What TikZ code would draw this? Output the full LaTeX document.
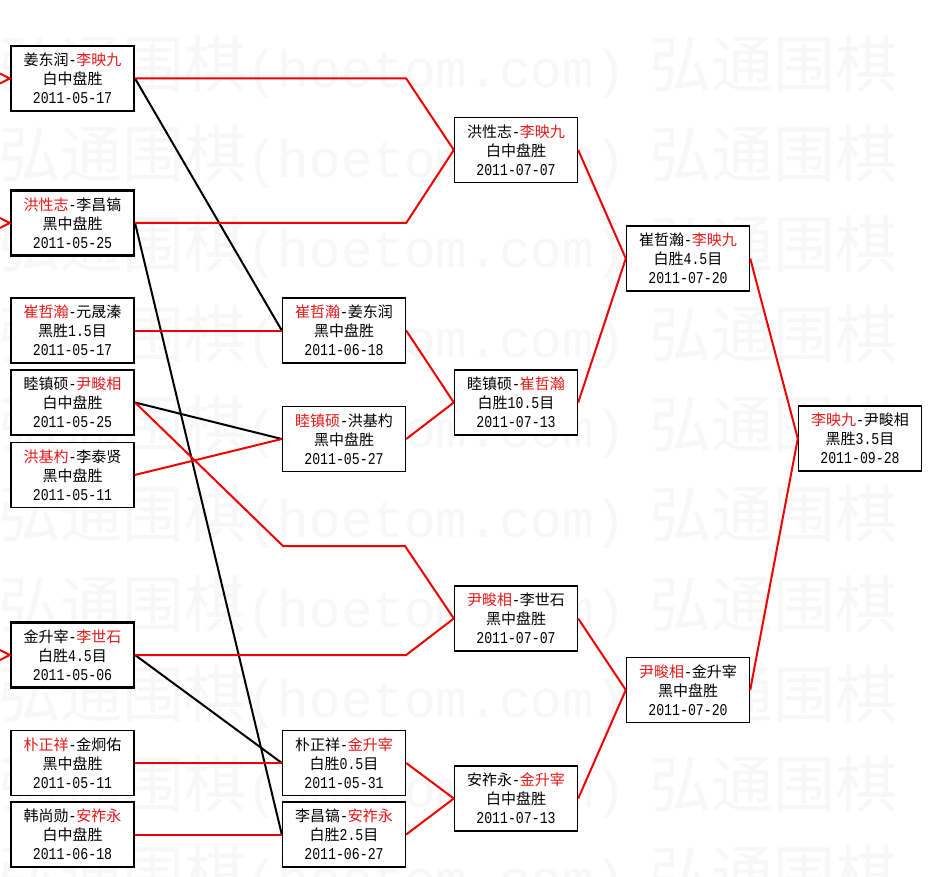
\documentclass[tikz,border=0pt]{standalone}
\usepackage{fontspec}
\setmainfont{Noto Sans CJK SC}
\newfontfamily\mono{Liberation Mono}[Scale=1.1,FakeStretch=0.8]
\newfontfamily\wmmono{Liberation Mono}[Scale=0.85]
\definecolor{txtred}{RGB}{228,24,24}
\definecolor{linered}{RGB}{240,0,0}
\newcommand\RR[1]{\textcolor{txtred}{#1}}
\newcommand\MM[1]{{\mono #1}}
\tikzset{
  gamebox/.style={draw=black, fill=white, line width=1.4pt, minimum width=123pt,
    minimum height=65pt, inner sep=0pt, align=center,
    font=\fontsize{15}{19}\selectfont},
  seedbox/.style={gamebox, line width=2.1pt},
  redline/.style={draw=linered, line width=2pt},
  blkline/.style={draw=black, line width=2pt},
  wm/.style={text=black!3, inner sep=0pt, anchor=west, font=\fontsize{62}{62}\selectfont}
}
\begin{document}
\begin{tikzpicture}[x=1pt,y=-1pt]
\useasboundingbox (0,0) rectangle (931,877);
\fill[white] (0,0) rectangle (931,877);
% watermark
\foreach \i in {0,...,9}
  \node[wm] (wm\i) at (-2,{67+90*\i}) {弘通围棋{\wmmono (hoetom.com)}\hspace{24pt}弘通围棋};
% coordinates
\coordinate (in1a) at (0,73.5);
\coordinate (in1b) at (0,83.5);
\coordinate (in2a) at (0,218);
\coordinate (in2b) at (0,228);
\coordinate (in6a) at (0,650);
\coordinate (in6b) at (0,660);
\coordinate (k1) at (283,546);
\coordinate (k2) at (405,546);
% boxes
\node[seedbox] (b1) at (72.5,78.5) {姜东润\MM{-}\RR{李映九}\\白中盘胜\\\MM{2011-05-17}};
\node[seedbox] (b2) at (72.5,223) {\RR{洪性志}\MM{-}李昌镐\\黑中盘胜\\\MM{2011-05-25}};
\node[gamebox] (b3) at (72.5,330.5) {\RR{崔哲瀚}\MM{-}元晟溱\\黑胜\MM{1.5}目\\\MM{2011-05-17}};
\node[seedbox] (b4) at (72.5,402.5) {睦镇硕\MM{-}\RR{尹畯相}\\白中盘胜\\\MM{2011-05-25}};
\node[gamebox] (b5) at (72.5,475) {\RR{洪基杓}\MM{-}李泰贤\\黑中盘胜\\\MM{2011-05-11}};
\node[seedbox] (b6) at (72.5,655) {金升宰\MM{-}\RR{李世石}\\白胜\MM{4.5}目\\\MM{2011-05-06}};
\node[gamebox] (b7) at (72.5,763) {\RR{朴正祥}\MM{-}金炯佑\\黑中盘胜\\\MM{2011-05-11}};
\node[gamebox] (b8) at (72.5,834.5) {韩尚勋\MM{-}\RR{安祚永}\\白中盘胜\\\MM{2011-06-18}};
\node[gamebox] (c2a) at (344,330.5) {\RR{崔哲瀚}\MM{-}姜东润\\黑中盘胜\\\MM{2011-06-18}};
\node[gamebox] (c2b) at (344,439) {\RR{睦镇硕}\MM{-}洪基杓\\黑中盘胜\\\MM{2011-05-27}};
\node[gamebox] (c2c) at (344,763) {朴正祥\MM{-}\RR{金升宰}\\白胜\MM{0.5}目\\\MM{2011-05-31}};
\node[gamebox] (c2d) at (344,834.5) {李昌镐\MM{-}\RR{安祚永}\\白胜\MM{2.5}目\\\MM{2011-06-27}};
\node[gamebox] (c3a) at (516,150) {洪性志\MM{-}\RR{李映九}\\白中盘胜\\\MM{2011-07-07}};
\node[gamebox] (c3b) at (516,402.5) {睦镇硕\MM{-}\RR{崔哲瀚}\\白胜\MM{10.5}目\\\MM{2011-07-13}};
\node[gamebox] (c3c) at (516,618.5) {\RR{尹畯相}\MM{-}李世石\\黑中盘胜\\\MM{2011-07-07}};
\node[gamebox] (c3d) at (516,798.5) {安祚永\MM{-}\RR{金升宰}\\白中盘胜\\\MM{2011-07-13}};
\node[gamebox] (c4a) at (688,258.5) {崔哲瀚\MM{-}\RR{李映九}\\白胜\MM{4.5}目\\\MM{2011-07-20}};
\node[gamebox] (c4b) at (688,690) {\RR{尹畯相}\MM{-}金升宰\\黑中盘胜\\\MM{2011-07-20}};
\node[gamebox] (c5) at (860,438.5) {\RR{李映九}\MM{-}尹畯相\\黑胜\MM{3.5}目\\\MM{2011-09-28}};
% connectors
\draw[redline] (in1a) -- (b1.west) -- (in1b);
\draw[redline] (in2a) -- (b2.west) -- (in2b);
\draw[redline] (in6a) -- (b6.west) -- (in6b);
\draw[blkline] (b1.east) -- (c2a.west);
\draw[blkline] (b2.east) -- (c2d.west);
\draw[blkline] (b4.east) -- (c2b.west);
\draw[blkline] (b6.east) -- (c2c.west);
\draw[redline] (b1.east) -- (b1.east -| c2a.east) -- (c3a.west);
\draw[redline] (b2.east) -- (b2.east -| c2a.east) -- (c3a.west);
\draw[redline] (b3.east) -- (c2a.west);
\draw[redline] (b5.east) -- (c2b.west);
\draw[redline] (b4.east) -- (k1) -- (k2) -- (c3c.west);
\draw[redline] (b6.east) -- (b6.east -| c2c.east) -- (c3c.west);
\draw[redline] (b7.east) -- (c2c.west);
\draw[redline] (b8.east) -- (c2d.west);
\draw[redline] (c2a.east) -- (c3b.west);
\draw[redline] (c2b.east) -- (c3b.west);
\draw[redline] (c2c.east) -- (c3d.west);
\draw[redline] (c2d.east) -- (c3d.west);
\draw[redline] (c3a.east) -- (c4a.west);
\draw[redline] (c3b.east) -- (c4a.west);
\draw[redline] (c3c.east) -- (c4b.west);
\draw[redline] (c3d.east) -- (c4b.west);
\draw[redline] (c4a.east) -- (c5.west);
\draw[redline] (c4b.east) -- (c5.west);
\end{tikzpicture}
\end{document}
